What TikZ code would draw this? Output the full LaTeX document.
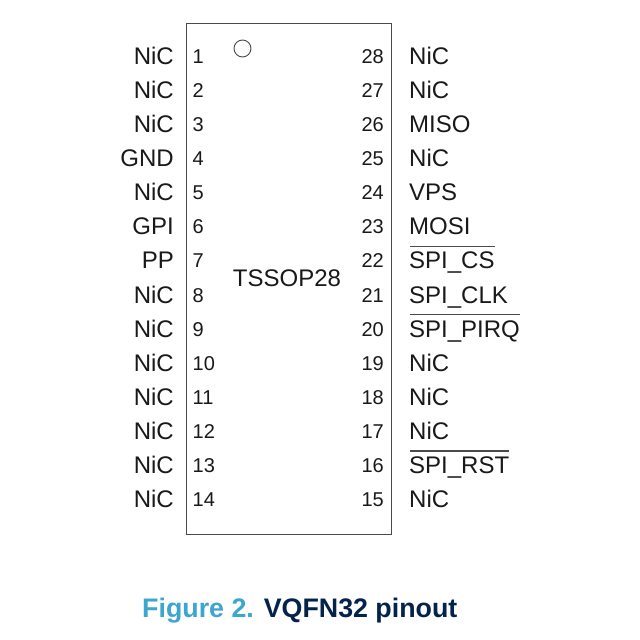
\documentclass[tikz,border=0pt]{standalone}
\usepackage{fontspec}
\setmainfont{Liberation Sans}
\definecolor{figblue}{HTML}{3CA5D0}
\definecolor{navy}{HTML}{03234B}
\definecolor{boxline}{HTML}{4A4A4A}
\tikzset{
  x=1pt,y=-1pt,
  pinname/.style={font=\fontsize{24}{26}\selectfont,text=black!90,inner sep=0pt},
  leftname/.style={pinname,anchor=base east},
  rightname/.style={pinname,anchor=base west},
  pinnum/.style={font=\fontsize{20}{22}\selectfont,text=black!90,inner sep=0pt},
  leftnum/.style={pinnum,anchor=base west},
  rightnum/.style={pinnum,anchor=base east},
  chipbox/.style={draw=boxline,line width=1pt,inner sep=0pt,minimum width=205pt,minimum height=511pt},
  bar/.style={draw=boxline,line width=1.2pt}
}
\begin{document}
\begin{tikzpicture}
\useasboundingbox (0,0) rectangle (640,640);
\fill[white] (0,0) rectangle (640,640);
\node[chipbox] (chip) at (289,278.5) {};
\node[draw=boxline,line width=0.9pt,circle,inner sep=0pt,minimum size=17pt] (dot) at (242.5,48.5) {};
\node[font=\fontsize{24}{26}\selectfont,text=black!90,inner sep=0pt] (name) at (287,278) {TSSOP28};
\foreach \n/\lab in {1/NiC,2/NiC,3/NiC,4/GND,5/NiC,6/GPI,7/PP,8/NiC,9/NiC,10/NiC,11/NiC,12/NiC,13/NiC,14/NiC}{
  \pgfmathsetmacro{\yy}{64.5+(\n-1)*34.08}
  \pgfmathsetmacro{\yn}{63.5+(\n-1)*34.08}
  \node[leftname] (L\n) at (174,\yy) {\lab};
  \node[leftnum] (NL\n) at (192.5,\yn) {\n};
}
\foreach \n/\lab in {28/NiC,27/NiC,26/MISO,25/NiC,24/VPS,23/MOSI,22/SPI\_CS,21/SPI\_CLK,20/SPI\_PIRQ,19/NiC,18/NiC,17/NiC,16/SPI\_RST,15/NiC}{
  \pgfmathsetmacro{\yy}{64.5+(28-\n)*34.08}
  \pgfmathsetmacro{\yn}{63.5+(28-\n)*34.08}
  \node[rightname] (R\n) at (409,\yy) {\lab};
  \node[rightnum] (NR\n) at (384,\yn) {\n};
}
\draw[bar] (R22.base west) ++(1,-22.5) coordinate (a1) (a1) -- (a1 -| R22.east);
\draw[bar] (R20.base west) ++(1,-22.5) coordinate (a2) (a2) -- (a2 -| R20.east);
\draw[bar] (R16.base west) ++(1,-22.5) coordinate (a3) (a3) -- (a3 -| R16.east);
\node[font=\fontsize{26.8}{28}\bfseries\selectfont,anchor=base west,inner sep=0pt] (cap) at (142,617) {\textcolor{figblue}{Figure 2.} \textcolor{navy}{VQFN32 pinout}};
\end{tikzpicture}
\end{document}
